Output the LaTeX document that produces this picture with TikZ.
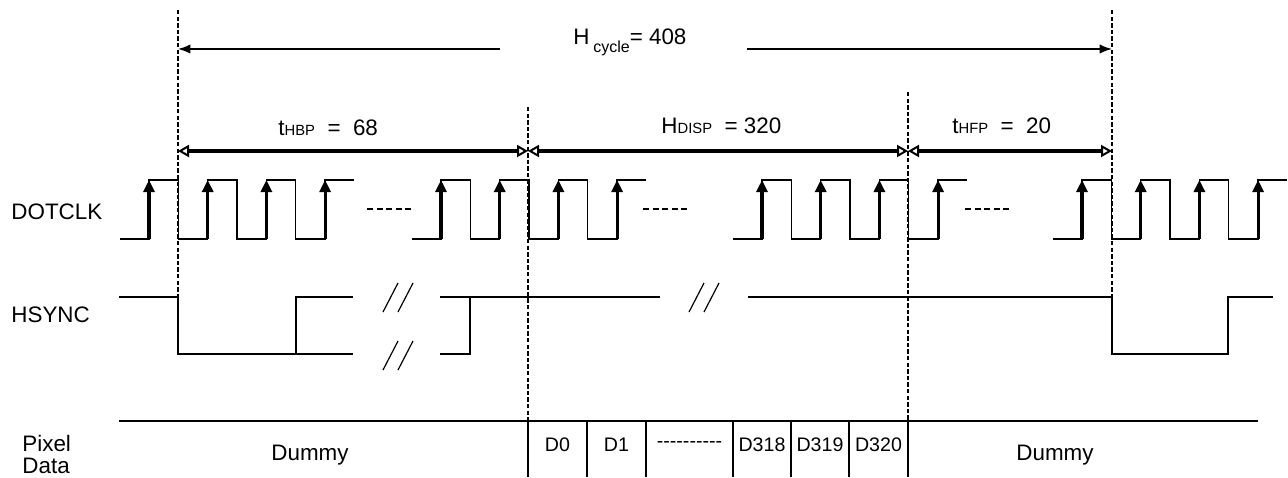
\documentclass[tikz,border=0pt]{standalone}
\usepackage{fontspec}
\setmainfont{Liberation Sans}
\usetikzlibrary{arrows.meta}
\tikzset{>=Latex}
\tikzset{sig/.style={line width=0.7pt, line join=miter}}
\tikzset{edge/.style={line width=1.6pt, -{Triangle[length=6pt, width=5.5pt]}}}
\tikzset{guide/.style={line width=0.6pt, dash pattern=on 2.2pt off 1.1pt}}
\tikzset{guidebold/.style={line width=1.1pt, dash pattern=on 2.2pt off 1.1pt}}
\tikzset{dim/.style={line width=0.7pt, -{Latex[length=5.5pt, width=4.5pt]}}}
\tikzset{dimbold/.style={line width=1.6pt, {Triangle[open, line width=1pt, length=5.5pt, width=6pt]}-{Triangle[open, line width=1pt, length=5.5pt, width=6pt]}}}
\tikzset{lbl/.style={inner sep=0pt, font=\fontsize{11.2}{13}\selectfont}}
\tikzset{cell/.style={inner sep=0pt, font=\fontsize{9.8}{11}\selectfont}}
\newcommand{\sub}[1]{{\fontsize{7.4}{8}\selectfont #1}}
\newcommand{\clk}[1]{%
	% low lead-in and three full periods
	\draw[sig] (#1-29.3,239) -- (#1,239)
		\foreach \k in {0,1,2}{ -- ({#1+\k*58.7},180) -- ({#1+\k*58.7+29.35},180) -- ({#1+\k*58.7+29.35},239) -- ({#1+\k*58.7+58.7},239)}
		-- ({#1+3*58.7},180) -- ({#1+3*58.7+29.35},180);
	% rising edges
	\foreach \k in {0,...,3}
		\draw[edge] ({#1+\k*58.7},239) -- ({#1+\k*58.7},180);
}
\newcommand{\brk}[2]{%
	\draw[line width=0.6pt] (#1,#2+14.5) -- ++(15,-29);
	\draw[line width=0.6pt] (#1+15,#2+14.5) -- ++(15,-29);
}

\begin{document}
\begin{tikzpicture}[x=0.5pt, y=-0.5pt, line cap=butt]
	\useasboundingbox (0,0) rectangle (1288,477);

	% Guide lines
	\draw[guidebold] (178,10) -- (178,312);
	\draw[guidebold] (1112,10) -- (1112,312);
	\draw[guide] (528,107) -- (528,421);
	\draw[guide] (908,92) -- (908,421);

	% H cycle
	\draw[dim, <-] (178,49) -- (500,49);
	\draw[dim, ->] (747,49) -- (1112,49);
	\node[lbl, anchor=base west] (hcyc) at (573,44) {H\,\raisebox{-0.75ex}{\fontsize{8}{9}\selectfont cycle}= 408};

	% Periods
	\draw[dimbold] (178,151) -- (528,151);
	\draw[dimbold] (528,151) -- (908,151);
	\draw[dimbold] (908,151) -- (1112,151);
	\node[lbl, anchor=base west] (thbp) at (278,135) {t\sub{HBP}\ \ =\ \ 68};
	\node[lbl, anchor=base west] (hdisp) at (661,133) {H\sub{DISP}\ \ = 320};
	\node[lbl, anchor=base west] (thfp) at (952,133) {t\sub{HFP}\ \ =\ \ 20};

	% DOTCLK
	\node[lbl, anchor=west] (dotclk) at (11,212) {DOTCLK};
	\clk{149}
	\clk{441}
	\clk{762}
	\clk{1082}
	\foreach \x in {367,643,965}
		\draw[line width=0.6pt, dash pattern=on 3pt off 1.8pt] (\x,209) -- (\x+46,209);

	% HSYNC
	\node[lbl, anchor=west] (hsync) at (11,315) {HSYNC};
	\draw[sig] (119,297) -- (178,297) -- (178,354) -- (353,354);
	\draw[sig] (296,354) -- (296,297) -- (353,297);
	\brk{383}{297.5}
	\brk{383}{355.5}
	\draw[sig] (440,297) -- (660,297);
	\draw[sig] (440,354) -- (470,354) -- (470,297);
	\brk{689}{297.5}
	\draw[sig] (748,297) -- (1112,297) -- (1112,354) -- (1228,354) -- (1228,297) -- (1273,297);

	% Pixel data
	\node[lbl, anchor=west, align=left, font=\fontsize{11.2}{11}\selectfont] (pix) at (22,454) {Pixel\\Data};
	\draw[sig] (119,421) -- (1258,421);
	\foreach \x in {528,587,646,733,791,849,908}
		\draw[sig] (\x,421) -- (\x,477);
	\node[lbl] (dumL) at (310,455) {Dummy};
	\node[lbl] (dumR) at (1055,455) {Dummy};
	\node[cell] (d0) at (557.5,445) {D0};
	\node[cell] (d1) at (616.5,445) {D1};
	\node[cell] (ddots) at (689.5,445) {-{}-{}-{}-{}-{}-{}-{}-{}-{}-};
	\node[cell] (d318) at (762,445) {D318};
	\node[cell] (d319) at (820,445) {D319};
	\node[cell] (d320) at (878.5,445) {D320};
\end{tikzpicture}
\end{document}
